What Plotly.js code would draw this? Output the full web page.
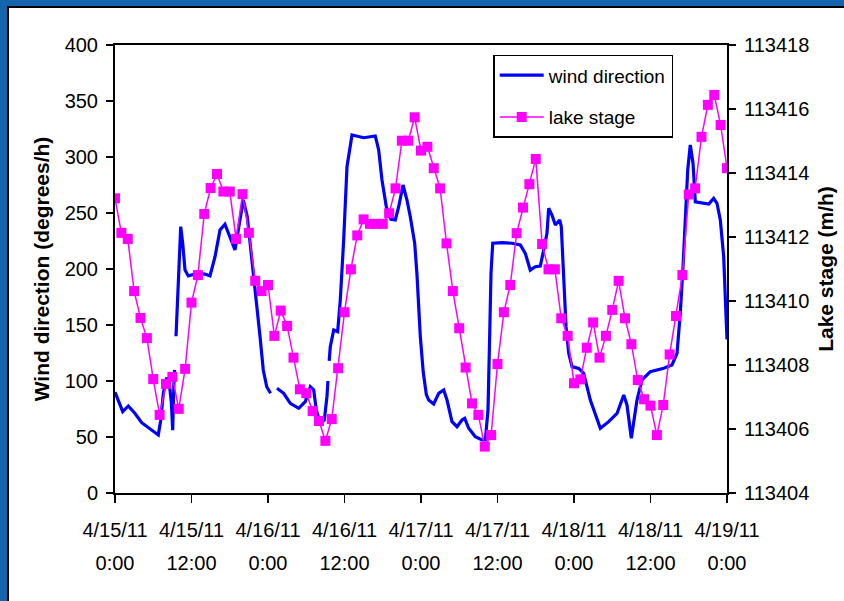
<!DOCTYPE html>
<html>
<head>
<meta charset="utf-8">
<script src="https://cdn.plot.ly/plotly-3.0.1.min.js"></script>
<style>
  html, body { margin: 0; padding: 0; background: #ffffff; }
  #wrap { position: relative; width: 844px; height: 601px; overflow: hidden; }
  #chart { position: absolute; left: 0; top: 0; width: 844px; height: 601px; }
  .band { position: absolute; background: #1565ad; }
  .edge { position: absolute; background: #000000; }
</style>
</head>
<body>
<div id="wrap">
  <div id="chart"></div>
  <div class="band" style="left:0;top:0;width:844px;height:6px;"></div>
  <div class="edge" style="left:8px;top:6px;width:836px;height:2px;"></div>
  <div class="band" style="left:0;top:0;width:7px;height:601px;"></div>
  <div class="edge" style="left:7px;top:6px;width:2px;height:595px;"></div>
</div>
<script>
// ---- x axis (hours since 4/15/11 0:00) and tick labels ----
const tickHours = [0, 12, 24, 36, 48, 60, 72, 84, 96];
const tickDates = ['4/15/11', '4/15/11', '4/16/11', '4/16/11', '4/17/11', '4/17/11', '4/18/11', '4/18/11', '4/19/11'];
const tickTimes = ['0:00', '12:00', '0:00', '12:00', '0:00', '12:00', '0:00', '12:00', '0:00'];

// ---- lake stage (hourly, right axis, m/h) ----
const lakeHours = [0,1,2,3,4,5,6,7,8,9,10,11,12,13,14,15,16,17,18,19,20,21,22,23,24,
  25,26,27,28,29,30,31,32,33,34,35,36,37,38,39,40,41,42,43,44,45,46,47,48,
  49,50,51,52,53,54,55,56,57,58,59,60,61,62,63,64,65,66,67,68,69,70,71,72,
  73,74,75,76,77,78,79,80,81,82,83,84,85,86,87,88,89,90,91,92,93,94,95,96];
const lakeStage = [
  113413.21, 113412.13, 113411.94, 113410.31, 113409.47, 113408.84, 113407.56, 113406.44, 113407.41, 113407.63,
  113406.63, 113407.88, 113409.95, 113410.81, 113412.72, 113413.53, 113413.97, 113413.42, 113413.42, 113411.94,
  113413.34, 113412.13, 113410.63, 113410.31, 113410.50, 113408.91, 113409.70, 113409.22, 113408.23, 113407.24,
  113407.12, 113406.56, 113406.25, 113405.63, 113406.31, 113407.90, 113409.65, 113410.99, 113412.05, 113412.55,
  113412.41, 113412.41, 113412.41, 113412.74, 113413.52, 113415.01, 113415.01, 113415.74, 113414.70, 113414.82,
  113414.15, 113413.52, 113411.80, 113410.31, 113409.15, 113407.92, 113406.80, 113406.44, 113405.45, 113405.81,
  113408.03, 113409.65, 113410.50, 113412.12, 113412.92, 113413.65, 113414.44, 113411.78, 113410.99, 113410.99,
  113409.46, 113408.91, 113407.43, 113407.55, 113408.54, 113409.33, 113408.23, 113408.91, 113409.72, 113410.63,
  113409.46, 113408.65, 113407.53, 113406.93, 113406.73, 113405.81, 113406.75, 113408.33, 113409.53, 113410.81,
  113413.33, 113413.52, 113415.13, 113416.13, 113416.44, 113415.50, 113414.15];

// ---- wind direction (left axis, degrees/h); null = gap in record ----
const windHours = [
  0, 1.21, 2.09, 3.14, 4.19, 5.49, 6.79, 7.17, 7.58, 8.11, 8.52, 8.85, 9.05, 9.25, 9.35,
  9.45, 9.57, 9.93, 10.04, 10.31, 10.62, 10.98, 11.5, 12.82, 14.12, 14.9, 15.69, 16.47, 17.25, 18.04,
  18.82, 19.34, 20.13, 20.75, 21.44, 22.23, 22.75, 23.26, 23.8, 24.4, 24.9,
  25.41, 26.46, 27.5, 28.82, 29.85, 30.64, 31.17, 31.58, 32.2, 32.83, 33.25, 33.4, 33.5,
  33.6, 33.77, 34.31, 34.93, 35.34, 35.87, 36.39, 37.18, 39.01, 40.83, 41.36, 41.88, 42.56,
  43.29, 43.97, 44.5, 45.18, 45.8, 46.32, 47.01, 47.37, 47.89, 48.35, 48.83, 49.2, 49.99,
  50.78, 51.56, 52.08, 52.86, 53.65, 54.43, 54.86, 55.48, 56.52, 57.57, 58.09, 58.51, 58.78,
  58.98, 59.25, 60.71, 62.27, 63.58, 64.36, 65.14, 65.93, 66.71, 67.25, 67.76, 68.03, 68.55,
  69.07, 69.76, 70.01, 70.38, 70.75, 71.17, 71.69, 72.74, 73.52, 74.56, 76.13, 77.44, 78.75,
  79.8, 80.31, 80.99, 81.88, 82.67, 83.97, 86.07, 87.37, 88.16, 88.67, 89.1, 89.46, 89.84,
  90.24, 90.67, 91.03, 92.08, 93.13, 93.91, 94.43, 94.95, 95.48, 95.75, 96];
const windDir = [
  90, 72.6, 77.7, 71, 62.8, 56.9, 51.8, 65, 89, 103, 98, 80, 56, 100, 110,
  null, 140, 185, 211, 237.8, 223, 199, 193.8, 196, 195.5, 193.8, 211, 234.8, 240, 228.8,
  217, 234.8, 261.6, 246.7, 211, 169.4, 139.6, 109.8, 94.9, 89, null,
  93.5, 89, 80, 75.6, 81.5, 94.9, 92, 74, 62.2, 65, 86, 100, null,
  118, 130.6, 145.5, 144, 172.3, 225.9, 291.3, 319.6, 317.2, 318.8, 306.3, 279.5, 255.6,
  244.4, 243.8, 255.6, 275, 261.6, 246.7, 223, 195, 140, 108, 88, 83, 79.5,
  89, 92, 83, 63.7, 59.2, 65.2, 66.7, 57.8, 50.3, 47.3, 47.3, 74, 142.6,
  196, 223, 223.5, 223, 221.4, 214, 199, 202, 202.7, 217, 231.9, 254.2, 248.2,
  239.3, 243.8, 237.8, 184.2, 148.5, 124.7, 112.8, 111.3, 106.9, 83, 57.8, 63.7, 71,
  87.5, 78.6, 48.8, 83, 101, 108.3, 111.3, 114.3, 124.7, 160.4, 202, 249.7, 288.4,
  310.7, 294.4, 260, 258.7, 258, 263, 258.7, 243.8, 211, 172, 137];

const FONT = 'Liberation Sans, Arial, Helvetica, sans-serif';

const traces = [
  {
    x: windHours, y: windDir, name: 'wind direction', type: 'scatter', mode: 'lines',
    line: {color: '#0000ff', width: 3.2}, connectgaps: false,
    xaxis: 'x', yaxis: 'y', legendgroup: 'a'
  },
  {
    x: lakeHours, y: lakeStage, name: 'lake stage', type: 'scatter', mode: 'lines+markers',
    line: {color: '#ff00ff', width: 1.5},
    marker: {symbol: 'square', size: 10, color: '#ff00ff'},
    xaxis: 'x', yaxis: 'y2', legendgroup: 'b'
  },
  {
    x: [], y: [], xaxis: 'x2', yaxis: 'y', showlegend: false, hoverinfo: 'skip',
    type: 'scatter', mode: 'lines'
  }
];

const tickFont = {family: FONT, size: 20, color: '#000000'};

const layout = {
  width: 844, height: 601,
  margin: {l: 115, r: 117, t: 45, b: 108},
  paper_bgcolor: 'rgba(0,0,0,0)', plot_bgcolor: '#ffffff',
  showlegend: true,
  xaxis: {
    range: [0, 96], tickmode: 'array', tickvals: tickHours, ticktext: tickDates,
    ticks: 'outside', ticklen: 8, tickwidth: 1.5, tickcolor: '#000',
    showline: true, linecolor: '#000', linewidth: 2, mirror: true,
    showgrid: false, zeroline: false, tickfont: tickFont, tickangle: 0,
    ticklabelstandoff: 10
  },
  xaxis2: {
    range: [0, 96], tickmode: 'array', tickvals: tickHours, ticktext: tickTimes,
    overlaying: 'x', anchor: 'y', side: 'bottom',
    ticks: '', showline: false, showgrid: false, zeroline: false,
    tickfont: tickFont, tickangle: 0, ticklabelstandoff: 56
  },
  yaxis: {
    range: [0, 400], tick0: 0, dtick: 50,
    ticks: 'outside', ticklen: 7, tickwidth: 1.5, tickcolor: '#000',
    showline: true, linecolor: '#000', linewidth: 2,
    showgrid: false, zeroline: false, tickfont: tickFont, ticklabelstandoff: 4,
    title: {text: '<b>Wind direction (degrees/h)</b>', font: {family: FONT, size: 21, color: '#000'}, standoff: 9}
  },
  yaxis2: {
    range: [113404, 113418], tick0: 113404, dtick: 2, tickformat: 'd',
    overlaying: 'y', side: 'right', anchor: 'x',
    ticks: 'outside', ticklen: 7, tickwidth: 1.5, tickcolor: '#000',
    showline: true, linecolor: '#000', linewidth: 2,
    showgrid: false, zeroline: false, tickfont: tickFont, ticklabelstandoff: 4,
    title: {text: '<b>Lake stage (m/h)</b>', font: {family: FONT, size: 21, color: '#000'}, standoff: 10}
  },
  legend: {
    x: 0.618, y: 0.978, xanchor: 'left', yanchor: 'top',
    bgcolor: '#ffffff', bordercolor: '#000000', borderwidth: 1.5,
    font: {family: FONT, size: 19, color: '#000'},
    traceorder: 'grouped', tracegroupgap: 14, itemwidth: 44
  }
};

Plotly.newPlot('chart', traces, layout, {displayModeBar: false, staticPlot: true});
</script>
</body>
</html>
